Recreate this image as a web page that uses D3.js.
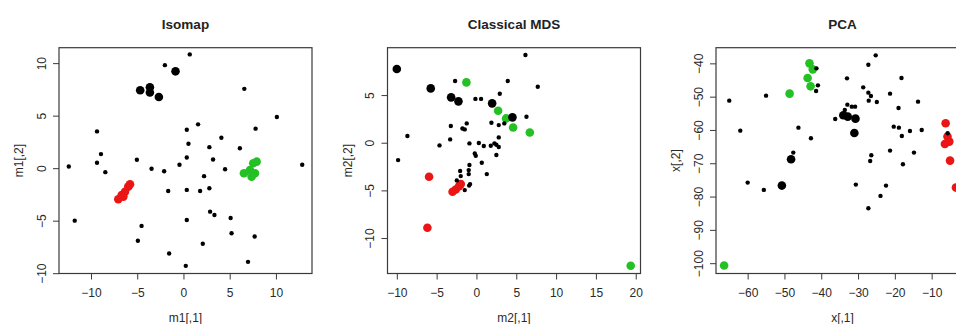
<!DOCTYPE html>
<html>
<head>
<meta charset="utf-8">
<script src="https://cdn.jsdelivr.net/npm/d3@7"></script>
<style>
  html, body { margin: 0; padding: 0; background: #fff; }
  svg { display: block; font-family: "Liberation Sans", Arial, sans-serif; }
</style>
</head>
<body>
<svg id="chart" width="956" height="324"></svg>
<script>
// ---------- DATA ----------
const panelTitles = ["Isomap", "Classical MDS", "PCA"];
const xLabels = ["m1[,1]", "m2[,1]", "x[,1]"];
const yLabels = ["m1[,2]", "m2[,2]", "x[,2]"];

const xDomains = [[-13.46, 13.9], [-11.17, 20.6], [-68.6, 0.15]];
const yDomains = [[-10.03, 11.47], [-13.72, 9.97], [-103.1, -35.3]];

const xTicks = [[-10, -5, 0, 5, 10], [-10, -5, 0, 5, 10, 15, 20], [-60, -50, -40, -30, -20, -10]];
const yTicks = [[-10, -5, 0, 5, 10], [-10, -5, 0, 5], [-100, -90, -80, -70, -60, -50, -40]];

// Isomap
const isoOther = [[0.68,10.83],[-2.01,9.81],[-12.4,0.16],[-9.35,3.5],[-8.92,1.34],[-9.35,0.51],[-8.45,-0.38],[-5.04,0.80],[-3.45,-0.06],[-2.09,-0.29],[-0.43,0.32],[0.36,1.02],[0.36,3.66],[0.54,2.32],[1.58,4.17],[4.1,2.9],[2.8,2.0],[3.2,0.83],[2.23,-0.76],[4.5,-0.1],[6.1,1.9],[6.58,7.55],[7.8,3.76],[10.1,4.87],[12.84,0.32],[-11.76,-5.0],[-4.53,-5.5],[-4.93,-6.91],[-1.65,-2.17],[0.36,-2.07],[1.8,-2.17],[2.8,-1.91],[0.36,-4.94],[2.88,-4.14],[3.35,-4.46],[5.1,-4.75],[5.2,-6.2],[7.7,-6.5],[2.09,-7.2],[-1.55,-8.12],[0.25,-9.3],[6.98,-8.92]];
const isoBlack = [[-4.68,7.42],[-3.63,7.7],[-3.63,7.2],[-2.66,6.78],[-0.86,9.22]];
const isoRed = [[-7.05,-2.96],[-6.68,-2.55],[-6.32,-2.24],[-5.97,-1.76],[-5.78,-1.53],[-6.5,-2.71]];
const isoGreen = [[6.54,-0.49],[7.19,-0.17],[7.55,0.47],[7.91,0.62],[7.73,-0.49],[7.37,-0.81]];

// Classical MDS
const mdsOther = [[6.15,9.2],[-9.84,-1.82],[-8.67,0.70],[-2.68,6.47],[3.93,6.47],[7.7,5.87],[2.93,5.14],[-0.13,4.6],[0.58,4.6],[6.28,2.73],[1.88,2.1],[2.8,1.85],[3.5,2.03],[-3.22,1.75],[-1.22,2.03],[-1.76,1.5],[-1.47,1.4],[-3.3,0.35],[-4.64,-0.28],[-0.88,-0.07],[0.3,-0.03],[0.92,-0.35],[1.8,-0.31],[2.26,-0.07],[2.5,-0.21],[2.8,-0.45],[2.8,0.56],[2.5,-1.29],[-0.21,-1.12],[-0.09,-1.36],[0.67,-2.1],[-0.88,-2.34],[-0.97,-2.87],[-0.97,-3.29],[1.3,-3.29],[-2.05,-2.97],[-1.97,-3.5],[-2.47,-3.95],[-0.8,-4.34],[-0.92,-4.5],[-1.47,-4.97]];
const mdsBlack = [[-10.0,7.73],[-5.74,5.70],[-3.18,4.76],[-2.26,4.34],[1.97,4.13],[4.52,2.66]];
const mdsRed = [[-5.95,-3.57],[-6.16,-8.92],[-3.0,-5.14],[-2.6,-4.9],[-2.18,-4.55],[-1.97,-4.34]];
const mdsGreen = [[-1.26,6.33],[2.72,3.36],[3.72,2.55],[4.6,1.6],[6.7,1.08],[19.37,-12.9]];

// PCA
const pcaOther = [[-65.0,-51.2],[-62.0,-60.2],[-60.0,-75.8],[-55.6,-78.0],[-55.0,-49.7],[-47.6,-66.8],[-46.2,-59.3],[-42.8,-62.5],[-41.3,-41.5],[-40.9,-46.6],[-41.4,-48.3],[-33.0,-44.5],[-36.2,-56.7],[-33.6,-54.0],[-32.9,-52.4],[-31.7,-53.0],[-30.8,-53.0],[-30.6,-76.4],[-27.2,-40.4],[-25.2,-37.6],[-28.6,-47.2],[-27.2,-48.8],[-26.5,-49.8],[-27.1,-51.2],[-24.9,-51.6],[-21.3,-49.1],[-18.2,-44.4],[-19.0,-53.4],[-13.7,-51.5],[-20.3,-59.0],[-18.9,-59.3],[-18.1,-61.8],[-15.9,-60.3],[-12.7,-60.0],[-21.3,-66.2],[-26.4,-67.6],[-26.7,-69.3],[-14.8,-66.8],[-17.8,-70.3],[-22.4,-76.7],[-23.9,-79.8],[-27.2,-83.5],[-5.65,-61.0]];
const pcaBlack = [[-50.7,-76.7],[-48.2,-68.8],[-34.0,-55.6],[-32.8,-56.0],[-30.7,-56.6],[-31.0,-60.9]];
const pcaRed = [[-6.2,-58.0],[-5.7,-62.0],[-6.4,-64.2],[-5.2,-63.5],[-5.0,-69.2],[-3.4,-77.3]];
const pcaGreen = [[-66.4,-100.7],[-48.6,-49.1],[-43.2,-40.0],[-42.3,-41.8],[-43.7,-44.4],[-42.9,-46.9]];

const panels = [
  { other: isoOther, black: isoBlack, red: isoRed, green: isoGreen },
  { other: mdsOther, black: mdsBlack, red: mdsRed, green: mdsGreen },
  { other: pcaOther, black: pcaBlack, red: pcaRed, green: pcaGreen }
];

// ---------- LAYOUT ----------
const firstLeft = 59, step = 328.5, boxW = 253, boxTop = 47.7, boxBottom = 273.5;
const axisColor = "#3a3a3a", textColor = "#2a2a2a";
const RED = "#ec1515", GREEN = "#24c024", BLACK = "#000";
const rSmall = 2.2, rBig = 4.3;

const svg = d3.select("#chart");

panels.forEach((p, i) => {
  const left = firstLeft + i * step;
  const x = d3.scaleLinear().domain(xDomains[i]).range([left, left + boxW]);
  const y = d3.scaleLinear().domain(yDomains[i]).range([boxBottom, boxTop]);
  const g = svg.append("g");

  // title
  g.append("text")
    .attr("x", left + boxW / 2).attr("y", 29)
    .attr("text-anchor", "middle")
    .attr("font-size", 13.5).attr("font-weight", "bold")
    .attr("fill", "#222")
    .text(panelTitles[i]);

  // points: colored groups first, then small black ones on top
  const drawPts = (arr, color, r) => {
    g.append("g").selectAll("circle").data(arr).join("circle")
      .attr("cx", d => x(d[0])).attr("cy", d => y(d[1]))
      .attr("r", r).attr("fill", color);
  };
  drawPts(p.green, GREEN, rBig);
  drawPts(p.red, RED, rBig);
  drawPts(p.black, BLACK, rBig);
  drawPts(p.other, BLACK, rSmall);

  // box
  g.append("rect")
    .attr("x", left).attr("y", boxTop)
    .attr("width", boxW).attr("height", boxBottom - boxTop)
    .attr("fill", "none").attr("stroke", axisColor).attr("stroke-width", 1.2);

  // x axis
  const xa = g.append("g")
    .attr("transform", `translate(0,${boxBottom})`)
    .call(d3.axisBottom(x).tickValues(xTicks[i]).tickSize(6).tickPadding(9).tickFormat(d3.format("d")));
  xa.select(".domain").remove();
  xa.selectAll("line").attr("stroke", axisColor);
  xa.selectAll("text").attr("font-size", 12).attr("fill", textColor)
    .attr("font-family", "Liberation Sans, Arial, sans-serif");

  // y axis
  const ya = g.append("g")
    .attr("transform", `translate(${left},0)`)
    .call(d3.axisLeft(y).tickValues(yTicks[i]).tickSize(6).tickFormat(d3.format("d")));
  ya.select(".domain").remove();
  ya.selectAll("line").attr("stroke", axisColor);
  ya.selectAll("text")
    .attr("font-size", 12).attr("fill", textColor)
    .attr("font-family", "Liberation Sans, Arial, sans-serif")
    .attr("transform", "rotate(-90)")
    .attr("x", 0).attr("y", -13.5).attr("dy", 0)
    .attr("text-anchor", "middle");

  // axis labels
  g.append("text")
    .attr("x", left + boxW / 2).attr("y", 322)
    .attr("text-anchor", "middle").attr("font-size", 12).attr("fill", textColor)
    .text(xLabels[i]);
  g.append("text")
    .attr("transform", `translate(${left - 36},${(boxTop + boxBottom) / 2}) rotate(-90)`)
    .attr("text-anchor", "middle").attr("font-size", 12).attr("fill", textColor)
    .text(yLabels[i]);
});
</script>
</body>
</html>
